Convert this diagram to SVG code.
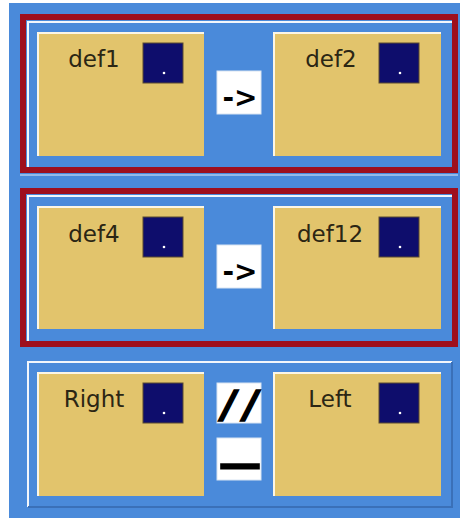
<svg xmlns="http://www.w3.org/2000/svg" width="460" height="518" viewBox="0 0 460 518">
  <style>
    .bg { fill: #4a8ada; }
    .sel { fill: none; stroke: #9e0f1d; stroke-width: 6; }
    .hl { stroke: #f2f6fb; stroke-width: 2; fill: none; }
    .sh { stroke: #3a70b8; stroke-width: 2; fill: none; }
    .node { fill: #e2c46c; }
    .nhl { stroke: #fbf6e6; stroke-width: 2; fill: none; }
    .sq { fill: #0e0d6c; stroke: #5a4a30; stroke-width: 1; }
    .dot { fill: #ffffff; }
    .lbl { font-family: "DejaVu Sans", Verdana, sans-serif; font-size: 23px; fill: #2b2614; text-anchor: middle; }
    .opbox { fill: #ffffff; stroke: #d8e4f2; stroke-width: 1; }
    .op { font-family: "DejaVu Sans", Verdana, sans-serif; font-weight: bold; fill: #000000; text-anchor: middle; }
  </style>

  <rect x="0" y="0" width="460" height="518" fill="#ffffff"/>
  <rect class="bg" x="9" y="3" width="451" height="515"/>

  <!-- row panels -->
  <g id="panel1">
    <path class="hl" d="M28 168 V22 H452"/>
    <rect class="sel" x="23" y="17" width="432" height="153"/>
  </g>
  <path d="M20 175 H458" stroke="#dfe9f6" stroke-width="1" fill="none"/>
  <g id="panel2">
    <path class="hl" d="M28 342 V196 H452"/>
    <rect class="sel" x="23" y="191" width="432" height="153"/>
  </g>
  <g id="panel3">
    <path class="hl" d="M28 507 V362 H452"/>
    <path class="sh" d="M452 362 V507 H28"/>
  </g>

  <!-- nodes -->
  <g id="def1">
    <rect class="node" x="37" y="32" width="167" height="124"/>
    <path class="nhl" d="M38 156 V33 H204"/>
    <rect class="sq" x="143" y="43" width="40" height="40"/>
    <circle class="dot" cx="164" cy="73" r="1.3"/>
    <text class="lbl" x="94" y="67">def1</text>
  </g>
  <g id="def2">
    <rect class="node" x="273" y="32" width="168" height="124"/>
    <path class="nhl" d="M274 156 V33 H441"/>
    <rect class="sq" x="379" y="43" width="40" height="40"/>
    <circle class="dot" cx="400" cy="73" r="1.3"/>
    <text class="lbl" x="331" y="67">def2</text>
  </g>
  <g id="def4">
    <rect class="node" x="37" y="206" width="167" height="123"/>
    <path class="nhl" d="M38 329 V207 H204"/>
    <rect class="sq" x="143" y="217" width="40" height="40"/>
    <circle class="dot" cx="164" cy="247" r="1.3"/>
    <text class="lbl" x="94" y="242">def4</text>
  </g>
  <g id="def12">
    <rect class="node" x="273" y="206" width="168" height="123"/>
    <path class="nhl" d="M274 329 V207 H441"/>
    <rect class="sq" x="379" y="217" width="40" height="40"/>
    <circle class="dot" cx="400" cy="247" r="1.3"/>
    <text class="lbl" x="330" y="242">def12</text>
  </g>
  <g id="right">
    <rect class="node" x="37" y="372" width="167" height="124"/>
    <path class="nhl" d="M38 496 V373 H204"/>
    <rect class="sq" x="143" y="383" width="40" height="40"/>
    <circle class="dot" cx="164" cy="413" r="1.3"/>
    <text class="lbl" x="94" y="407">Right</text>
  </g>
  <g id="left">
    <rect class="node" x="273" y="372" width="168" height="124"/>
    <path class="nhl" d="M274 496 V373 H441"/>
    <rect class="sq" x="379" y="383" width="40" height="40"/>
    <circle class="dot" cx="400" cy="413" r="1.3"/>
    <text class="lbl" x="330" y="407">Left</text>
  </g>

  <!-- operators between nodes -->
  <g id="connectors">
    <g id="op1">
      <rect class="opbox" x="217" y="71" width="44" height="43"/>
      <text class="op" x="240" y="107" font-size="28">-&gt;</text>
    </g>
    <g id="op2">
      <rect class="opbox" x="217" y="245" width="44" height="43"/>
      <text class="op" x="240" y="281" font-size="28">-&gt;</text>
    </g>
    <g id="op3">
      <rect class="opbox" x="217" y="383" width="44" height="40"/>
      <text class="op" x="240" y="417" font-size="38" font-style="italic" stroke="#000" stroke-width="1.5" textLength="36" lengthAdjust="spacing">//</text>
    </g>
    <g id="op4">
      <rect class="opbox" x="217" y="438" width="44" height="42"/>
      <text class="op" x="240" y="460" font-size="36" stroke="#000" stroke-width="3" textLength="34" lengthAdjust="spacingAndGlyphs">_</text>
    </g>
  </g>
</svg>
